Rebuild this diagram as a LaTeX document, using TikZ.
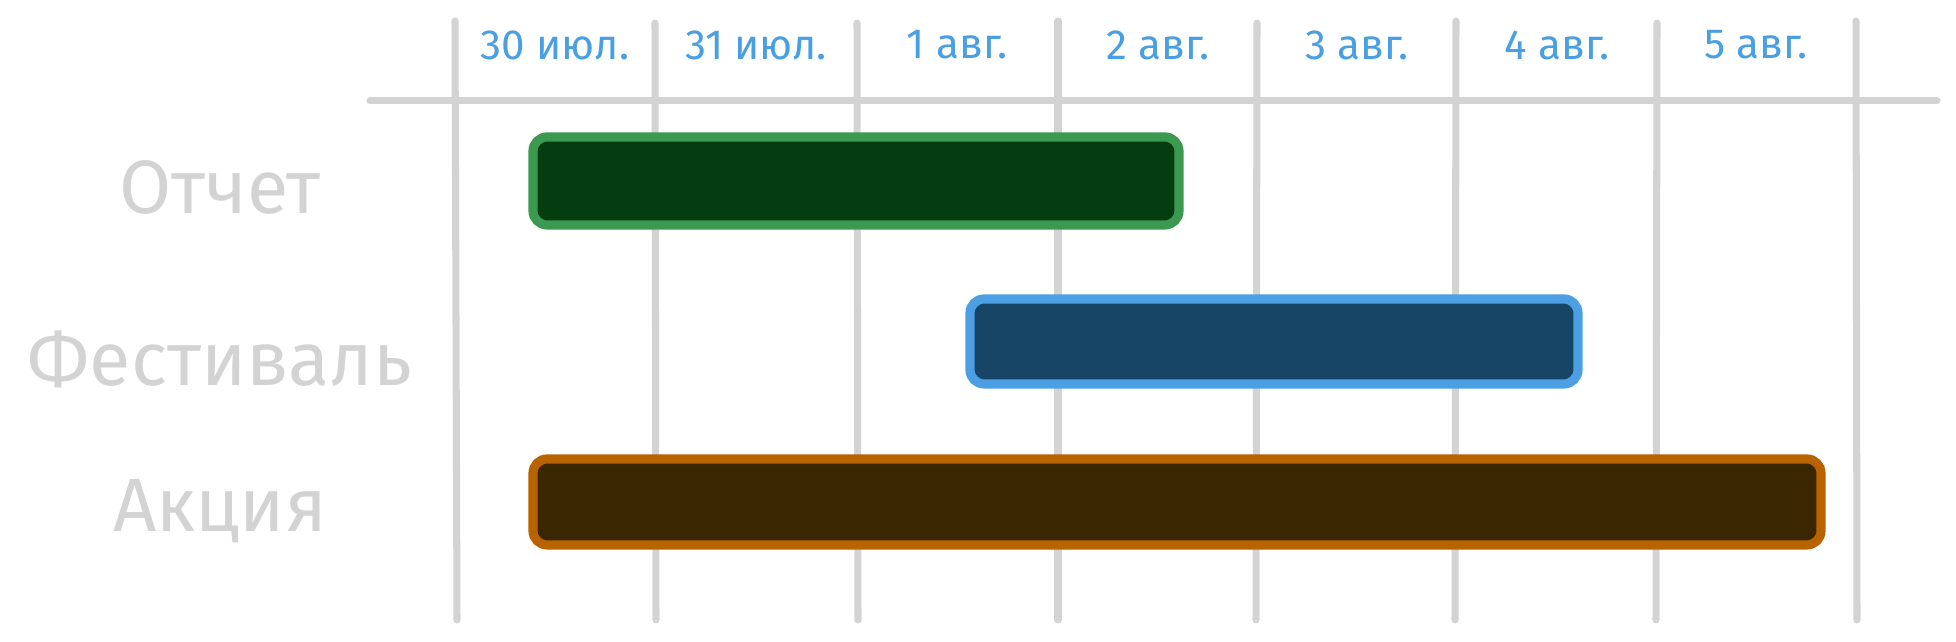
\documentclass[tikz,border=0pt]{standalone}
\usepackage{fontspec}
\setmainfont{Fira Sans}
\definecolor{gridgray}{HTML}{D3D3D3}
\definecolor{dateblue}{HTML}{4A9FE3}
\definecolor{greenline}{HTML}{3B9A4F}
\definecolor{greenfill}{HTML}{053D10}
\definecolor{blueline}{HTML}{4C9FE3}
\definecolor{bluefill}{HTML}{174566}
\definecolor{orangeline}{HTML}{B86200}
\definecolor{orangefill}{HTML}{3A2601}
\tikzset{
  gridline/.style = {gridgray, line width=2pt, line cap=round},
  datelabel/.style = {dateblue, font=\fontsize{12}{14}\selectfont},
  rowlabel/.style = {gridgray, font=\fontsize{21.5}{25}\selectfont},
  bar/.style = {line width=2.6pt, rounded corners=4pt}
}
\begin{document}
\begin{tikzpicture}
                \useasboundingbox (0,0) rectangle (19.56,6.42);
                \draw[gridline] (3.70,5.41) -- (19.37,5.41);
                \draw[gridline] (4.55,6.21) -- (4.57,0.22);
                \draw[gridline] (6.55,6.19) -- (6.56,0.22);
                \draw[gridline] (8.57,6.19) -- (8.58,0.22);
                \draw[gridline] (10.58,6.21) -- (10.58,0.22);
                \draw[gridline] (12.57,6.19) -- (12.56,0.22);
                \draw[gridline] (14.56,6.21) -- (14.55,0.22);
                \draw[gridline] (16.57,6.19) -- (16.56,0.22);
                \draw[gridline] (18.56,6.21) -- (18.57,0.22);
                \node[datelabel] (d30) at (5.55,5.97) {30 июл.};
                \node[datelabel] (d31) at (7.56,5.97) {31 июл.};
                \node[datelabel] (d1) at (9.57,5.97) {1 авг.};
                \node[datelabel] (d2) at (11.58,5.97) {2 авг.};
                \node[datelabel] (d3) at (13.57,5.97) {3 авг.};
                \node[datelabel] (d4) at (15.57,5.97) {4 авг.};
                \node[datelabel] (d5) at (17.56,5.97) {5 авг.};
                \node[rowlabel] (otchet) at (2.2,4.55) {Отчет};
                \node[rowlabel] (festival) at (2.2,2.83) {Фестиваль};
                \node[rowlabel] (akciya) at (2.2,1.31) {Акция};
                \filldraw[bar, draw=greenline, fill=greenfill] (5.33,4.17) rectangle (11.79,5.05);
                \filldraw[bar, draw=blueline, fill=bluefill] (9.70,2.58) rectangle (15.78,3.43);
                \filldraw[bar, draw=orangeline, fill=orangefill] (5.33,0.97) rectangle (18.21,1.83);

            \end{tikzpicture}
\end{document}
